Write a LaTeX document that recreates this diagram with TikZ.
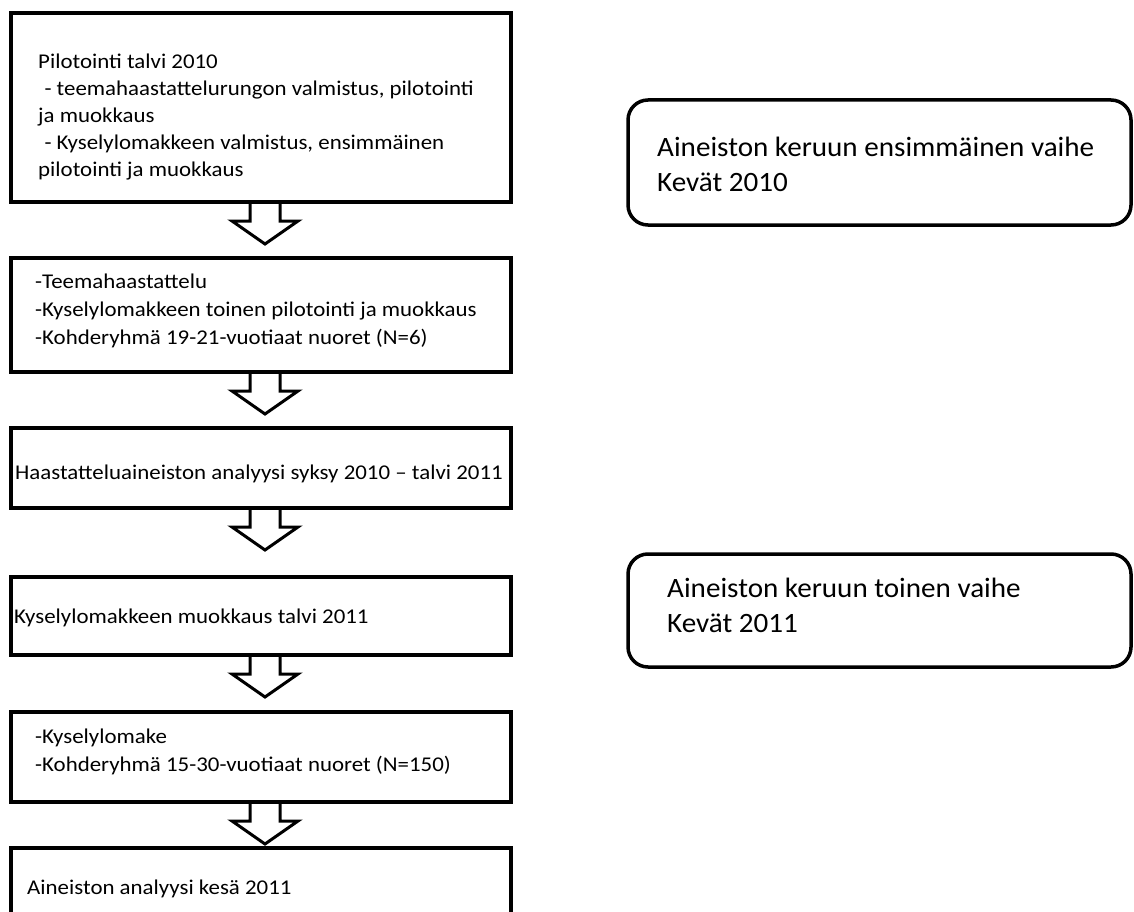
\documentclass[tikz,border=0pt]{standalone}
\usepackage{fontspec}
\newfontfamily\boxfont{Carlito}[FakeStretch=1.09]
\newfontfamily\rfont{Carlito}[FakeStretch=1.04]
\usetikzlibrary{calc}
\pgfdeclarelayer{back}
\pgfdeclarelayer{bg}
\pgfsetlayers{back,bg,main}
\begin{document}
\begin{tikzpicture}[x=1pt,y=-1pt,
  box/.style={draw, line width=3.5pt, rectangle, inner sep=0pt, outer sep=0pt, minimum width=500pt},
  rbox/.style={draw, line width=3.5pt, rounded corners=20pt, rectangle, inner sep=0pt, outer sep=0pt, minimum width=503pt},
  txt/.style={anchor=base west, inner sep=0pt, align=left, font=\boxfont\fontsize{21}{28}\selectfont},
  rtxt/.style={anchor=base west, inner sep=0pt, align=left, font=\rfont\fontsize{28}{35}\selectfont},
  blockarrow/.style={draw, fill=white, line width=3pt, line join=miter}]
\useasboundingbox (0,0) rectangle (1134,912);
\clip (0,0) rectangle (1134,912);
\begin{pgfonlayer}{back}
\fill[white] (0,0) rectangle (1134,912);
\end{pgfonlayer}
% boxes
\node[box, minimum height=189pt] (b1) at (261,107.5) {};
\node[box, minimum height=114pt] (b2) at (261,315) {};
\node[box, minimum height=80pt] (b3) at (261,468) {};
\node[box, minimum height=78pt] (b4) at (261,616) {};
\node[box, minimum height=90pt] (b5) at (261,757) {};
\node[box, minimum height=100pt] (b6) at (261,898) {};
\node[rbox, minimum height=125pt] (r1) at (879.5,162.5) {};
\node[rbox, minimum height=113pt] (r2) at (879.5,610.5) {};
% texts (multi-line nodes: base = last line)
\node[txt, font=\boxfont\fontsize{21}{27}\selectfont] (t1) at (38,177) {Pilotointi talvi 2010\\\hspace*{0.3em}- teemahaastattelurungon valmistus, pilotointi\\ja muokkaus\\\hspace*{0.3em}- Kyselylomakkeen valmistus, ensimmäinen\\pilotointi ja muokkaus};
\node[txt] (t2) at (35,344) {-Teemahaastattelu\\-Kyselylomakkeen toinen pilotointi ja muokkaus\\-Kohderyhmä 19-21-vuotiaat nuoret (N=6)};
\node[txt] (t3) at (15,479) {Haastatteluaineiston analyysi syksy 2010 – talvi 2011};
\node[txt] (t4) at (14,623) {Kyselylomakkeen muokkaus talvi 2011};
\node[txt] (t5) at (35,771) {-Kyselylomake\\-Kohderyhmä 15-30-vuotiaat nuoret (N=150)};
\node[txt] (t6) at (27,894) {Aineiston analyysi kesä 2011};
\node[rtxt] (t7) at (657,191) {Aineiston keruun ensimmäinen vaihe\\Kevät 2010};
\node[rtxt] (t8) at (667,632) {Aineiston keruun toinen vaihe\\Kevät 2011};
% block arrows
\coordinate (ax) at (265,0);
\begin{pgfonlayer}{bg}
\foreach \a in {b1,b2,b3,b4,b5}
  \draw[blockarrow] (\a.south -| ax) ++(-15,0) -- ++(0,19) -- ++(-18,0) -- ++(33,23) -- ++(33,-23) -- ++(-18,0) -- ++(0,-19);
\end{pgfonlayer}
\end{tikzpicture}
\end{document}
